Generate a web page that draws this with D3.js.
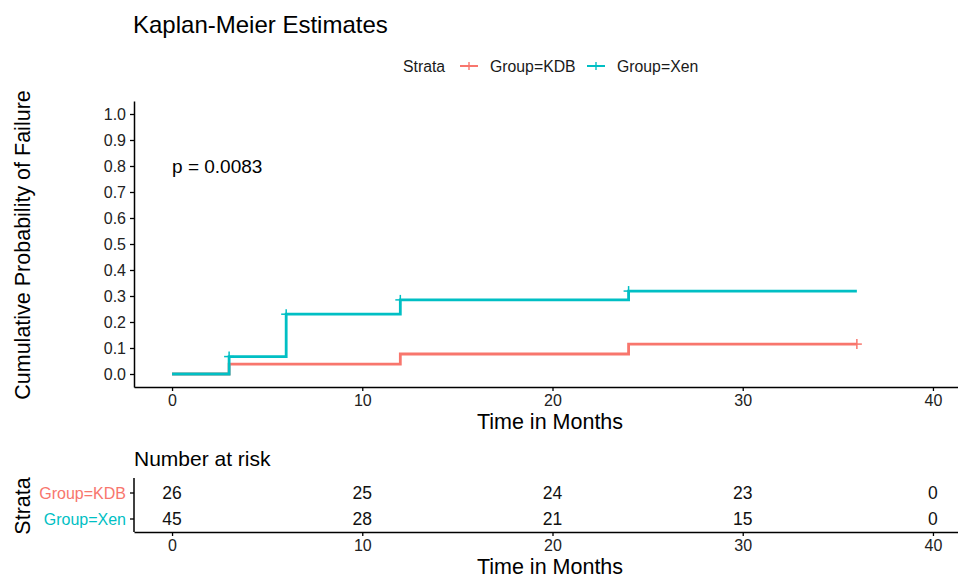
<!DOCTYPE html>
<html>
<head>
<meta charset="utf-8">
<script src="https://cdn.jsdelivr.net/npm/d3@7"></script>
<style>
  body { margin: 0; background: #fff; }
  text { font-family: Arial, "Liberation Sans", sans-serif; }
</style>
</head>
<body>
<svg id="chart" width="958" height="580"></svg>
<script>
// data
const groups = ['Group=KDB', 'Group=Xen'];
const colors = ['#F8766D', '#00BFC4'];
const kdbTimes = [0, 3, 12, 24, 36];
const kdbCum = [0, 0.038, 0.077, 0.115, 0.115];
const xenTimes = [0, 3, 6, 12, 24, 36];
const xenCum = [0, 0.067, 0.23, 0.285, 0.319, 0.319];
const kdbCensor = [36];
const xenCensor = [3, 6, 12, 24];
const riskTimes = [0, 10, 20, 30, 40];
const kdbRisk = [26, 25, 24, 23, 0];
const xenRisk = [45, 28, 21, 15, 0];
const xTicks = [0, 10, 20, 30, 40];
const yTicks = [0, 0.1, 0.2, 0.3, 0.4, 0.5, 0.6, 0.7, 0.8, 0.9, 1.0];
const pValue = 'p = 0.0083';

const series = [
  { name: groups[0], color: colors[0], times: kdbTimes, cum: kdbCum, censor: kdbCensor, risk: kdbRisk },
  { name: groups[1], color: colors[1], times: xenTimes, cum: xenCum, censor: xenCensor, risk: xenRisk },
];

const svg = d3.select('#chart');

const x = d3.scaleLinear().domain([-2, 42]).range([134, 971]);
const y = d3.scaleLinear().domain([-0.05, 1.05]).range([387, 101]);

const styleAxis = g => {
  g.select('.domain').attr('stroke-width', 1.5);
  g.selectAll('.tick line').attr('stroke-width', 1.3);
  g.selectAll('text').attr('font-size', 16).attr('fill', '#222')
    .attr('font-family', 'Arial, Liberation Sans, sans-serif');
};

// title
svg.append('text').attr('x', 133).attr('y', 33)
  .attr('font-size', 24).attr('fill', '#000').text('Kaplan-Meier Estimates');

// legend
const leg = svg.append('g').attr('font-size', 15.8).attr('fill', '#1a1a1a');
leg.append('text').attr('x', 403).attr('y', 72).text('Strata');
const legX = [460, 587];
series.forEach((s, i) => {
  const g = svg.append('g').attr('stroke', s.color).attr('stroke-width', 2);
  g.append('line').attr('x1', legX[i]).attr('x2', legX[i] + 18).attr('y1', 66).attr('y2', 66);
  g.append('line').attr('x1', legX[i] + 9).attr('x2', legX[i] + 9).attr('y1', 62).attr('y2', 70).attr('stroke-width', 1.4);
  leg.append('text').attr('x', legX[i] + 30).attr('y', 72).text(s.name);
});

// main axes
const plot = svg.append('g');
plot.append('g').attr('transform', 'translate(0,387)')
  .call(d3.axisBottom(x).tickValues(xTicks).tickSize(4).tickPadding(4).tickSizeOuter(0))
  .call(styleAxis);
plot.append('g').attr('transform', 'translate(134,0)')
  .call(d3.axisLeft(y).tickValues(yTicks).tickFormat(d3.format('.1f')).tickSize(4).tickPadding(4).tickSizeOuter(0))
  .call(styleAxis);

svg.append('text').attr('transform', 'translate(30,245) rotate(-90)')
  .attr('text-anchor', 'middle').attr('font-size', 21.5).text('Cumulative Probability of Failure');
svg.append('text').attr('x', 550).attr('y', 429)
  .attr('text-anchor', 'middle').attr('font-size', 21.5).text('Time in Months');

// curves
const line = d3.line().curve(d3.curveStepAfter).x(d => x(d[0])).y(d => y(d[1]));
series.forEach(s => {
  const pts = s.times.map((t, i) => [t, s.cum[i]]);
  plot.append('path').attr('d', line(pts)).attr('fill', 'none')
    .attr('stroke', s.color).attr('stroke-width', 2.8);
});
// censor marks
series.forEach(s => {
  const lookup = t => {
    let v = 0;
    s.times.forEach((tt, i) => { if (tt <= t) v = s.cum[i]; });
    return v;
  };
  s.censor.forEach(t => {
    const cx = x(t), cy = y(lookup(t));
    const g = plot.append('g').attr('stroke', s.color).attr('stroke-width', 1.5);
    g.append('line').attr('x1', cx - 5).attr('x2', cx + 5).attr('y1', cy).attr('y2', cy);
    g.append('line').attr('x1', cx).attr('x2', cx).attr('y1', cy - 5).attr('y2', cy + 5);
  });
});

svg.append('text').attr('x', x(0)).attr('y', y(0.8) + 7)
  .attr('font-size', 19).attr('fill', '#000').text(pValue);

// risk table
svg.append('text').attr('x', 134).attr('y', 466).attr('font-size', 21).text('Number at risk');
const ry = d3.scalePoint().domain(groups).range([493, 519]);
const tbl = svg.append('g');
tbl.append('g').attr('transform', 'translate(0,532)')
  .call(d3.axisBottom(x).tickValues(xTicks).tickSize(4).tickPadding(4).tickSizeOuter(0))
  .call(styleAxis);
tbl.append('line').attr('x1', 134).attr('x2', 134).attr('y1', 478).attr('y2', 532)
  .attr('stroke', '#000').attr('stroke-width', 1.5);
series.forEach(s => {
  const yy = ry(s.name);
  tbl.append('line').attr('x1', 130).attr('x2', 134).attr('y1', yy).attr('y2', yy)
    .attr('stroke', '#000').attr('stroke-width', 1.3);
  tbl.append('text').attr('x', 126).attr('y', yy + 5.5).attr('text-anchor', 'end')
    .attr('font-size', 16).attr('fill', s.color).text(s.name);
  s.risk.forEach((r, j) => {
    tbl.append('text').attr('x', x(riskTimes[j])).attr('y', yy + 6).attr('text-anchor', 'middle')
      .attr('font-size', 17.5).attr('fill', '#111').text(r);
  });
});
svg.append('text').attr('transform', 'translate(30,506) rotate(-90)')
  .attr('text-anchor', 'middle').attr('font-size', 21.5).text('Strata');
svg.append('text').attr('x', 550).attr('y', 574)
  .attr('text-anchor', 'middle').attr('font-size', 21.5).text('Time in Months');
</script>
</body>
</html>
